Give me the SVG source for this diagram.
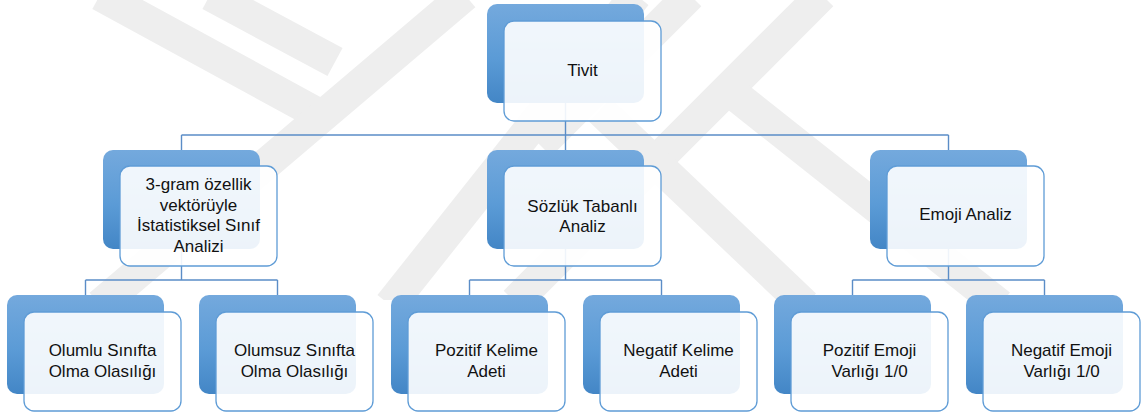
<svg xmlns="http://www.w3.org/2000/svg" width="1141" height="414" viewBox="0 0 1141 414">
  <defs>
    <linearGradient id="blueFill" x1="0" y1="0" x2="0" y2="1">
      <stop offset="0" stop-color="#74a9dd"/>
      <stop offset="0.55" stop-color="#5b9bd6"/>
      <stop offset="1" stop-color="#4386c6"/>
    </linearGradient>
    <clipPath id="emblemClip">
      <rect x="0" y="0" width="1141" height="300"/>
    </clipPath>
  </defs>
  <style>
    .back { fill: url(#blueFill); }
    .front { fill: #ffffff; fill-opacity: 0.9; stroke: #5f9cd6; stroke-width: 1.3; }
    .link { fill: none; stroke: #5b8dc7; stroke-width: 1.4; }
    .band { fill: none; stroke: #eeeeee; stroke-width: 32; stroke-linecap: butt; }
    text { font-family: "Liberation Sans", Arial, sans-serif; font-size: 17px; fill: #111111; text-anchor: middle; }
  </style>

  <rect width="1141" height="414" fill="#ffffff"/>

  <!-- faint background emblem -->
  <g id="emblem" clip-path="url(#emblemClip)">
    <path class="band" d="M100 -5 L320 115"/>
    <path class="band" d="M210 -5 L335 62"/>
    <path class="band" d="M465 -5 L100 305"/>
    <path class="band" d="M636 -5 L390 305"/>
    <path class="band" d="M690 -5 L540 145"/>
    <path class="band" d="M822 -5 L515 302"/>
    <path class="band" d="M735 95 L1000 305"/>
    <path class="band" d="M600 110 L805 305"/>
  </g>

  <!-- connectors -->
  <g id="connectors">
    <path class="link" d="M565.5 103 V135 M181.5 135 H948.5 M181.5 135 V150 M565.5 135 V150 M948.5 135 V150"/>
    <path class="link" d="M181.5 249 V280 M85.5 280 H277.5 M85.5 280 V295 M277.5 280 V295"/>
    <path class="link" d="M565.5 249 V280 M469.5 280 H661.5 M469.5 280 V295 M661.5 280 V295"/>
    <path class="link" d="M948.5 249 V280 M852.5 280 H1044.5 M852.5 280 V295 M1044.5 280 V295"/>
  </g>

  <!-- level 1 -->
  <g id="node-tivit">
    <rect class="back" x="487" y="4" width="157" height="99" rx="10"/>
    <rect class="front" x="504" y="21" width="157" height="100" rx="10"/>
    <text x="582.5" y="76">Tivit</text>
  </g>

  <!-- level 2 -->
  <g id="node-3gram">
    <rect class="back" x="103" y="150" width="157" height="99" rx="10"/>
    <rect class="front" x="120" y="166" width="157" height="100" rx="10"/>
    <text x="198.5" y="190">3-gram özellik</text>
    <text x="198.5" y="210.5">vektörüyle</text>
    <text x="198.5" y="231">İstatistiksel Sınıf</text>
    <text x="198.5" y="251.5">Analizi</text>
  </g>
  <g id="node-sozluk">
    <rect class="back" x="487" y="150" width="157" height="99" rx="10"/>
    <rect class="front" x="504" y="166" width="157" height="100" rx="10"/>
    <text x="582.5" y="211.5">Sözlük Tabanlı</text>
    <text x="582.5" y="232">Analiz</text>
  </g>
  <g id="node-emoji">
    <rect class="back" x="870" y="150" width="157" height="99" rx="10"/>
    <rect class="front" x="887" y="166" width="157" height="100" rx="10"/>
    <text x="965.5" y="220">Emoji Analiz</text>
  </g>

  <!-- level 3 -->
  <g id="node-olumlu">
    <rect class="back" x="7" y="295" width="157" height="99" rx="10"/>
    <rect class="front" x="24" y="312" width="157" height="99" rx="10"/>
    <text x="102.5" y="356">Olumlu Sınıfta</text>
    <text x="102.5" y="376.5">Olma Olasılığı</text>
  </g>
  <g id="node-olumsuz">
    <rect class="back" x="199" y="295" width="157" height="99" rx="10"/>
    <rect class="front" x="216" y="312" width="157" height="99" rx="10"/>
    <text x="294.5" y="356">Olumsuz Sınıfta</text>
    <text x="294.5" y="376.5">Olma Olasılığı</text>
  </g>
  <g id="node-pozitif-kelime">
    <rect class="back" x="391" y="295" width="157" height="99" rx="10"/>
    <rect class="front" x="408" y="312" width="157" height="99" rx="10"/>
    <text x="486.5" y="356">Pozitif Kelime</text>
    <text x="486.5" y="376.5">Adeti</text>
  </g>
  <g id="node-negatif-kelime">
    <rect class="back" x="583" y="295" width="157" height="99" rx="10"/>
    <rect class="front" x="600" y="312" width="157" height="99" rx="10"/>
    <text x="678.5" y="356">Negatif Kelime</text>
    <text x="678.5" y="376.5">Adeti</text>
  </g>
  <g id="node-pozitif-emoji">
    <rect class="back" x="774" y="295" width="157" height="99" rx="10"/>
    <rect class="front" x="791" y="312" width="157" height="99" rx="10"/>
    <text x="869.5" y="356">Pozitif Emoji</text>
    <text x="869.5" y="376.5">Varlığı 1/0</text>
  </g>
  <g id="node-negatif-emoji">
    <rect class="back" x="966" y="295" width="157" height="99" rx="10"/>
    <rect class="front" x="983" y="312" width="157" height="99" rx="10"/>
    <text x="1061.5" y="356">Negatif Emoji</text>
    <text x="1061.5" y="376.5">Varlığı 1/0</text>
  </g>
</svg>
